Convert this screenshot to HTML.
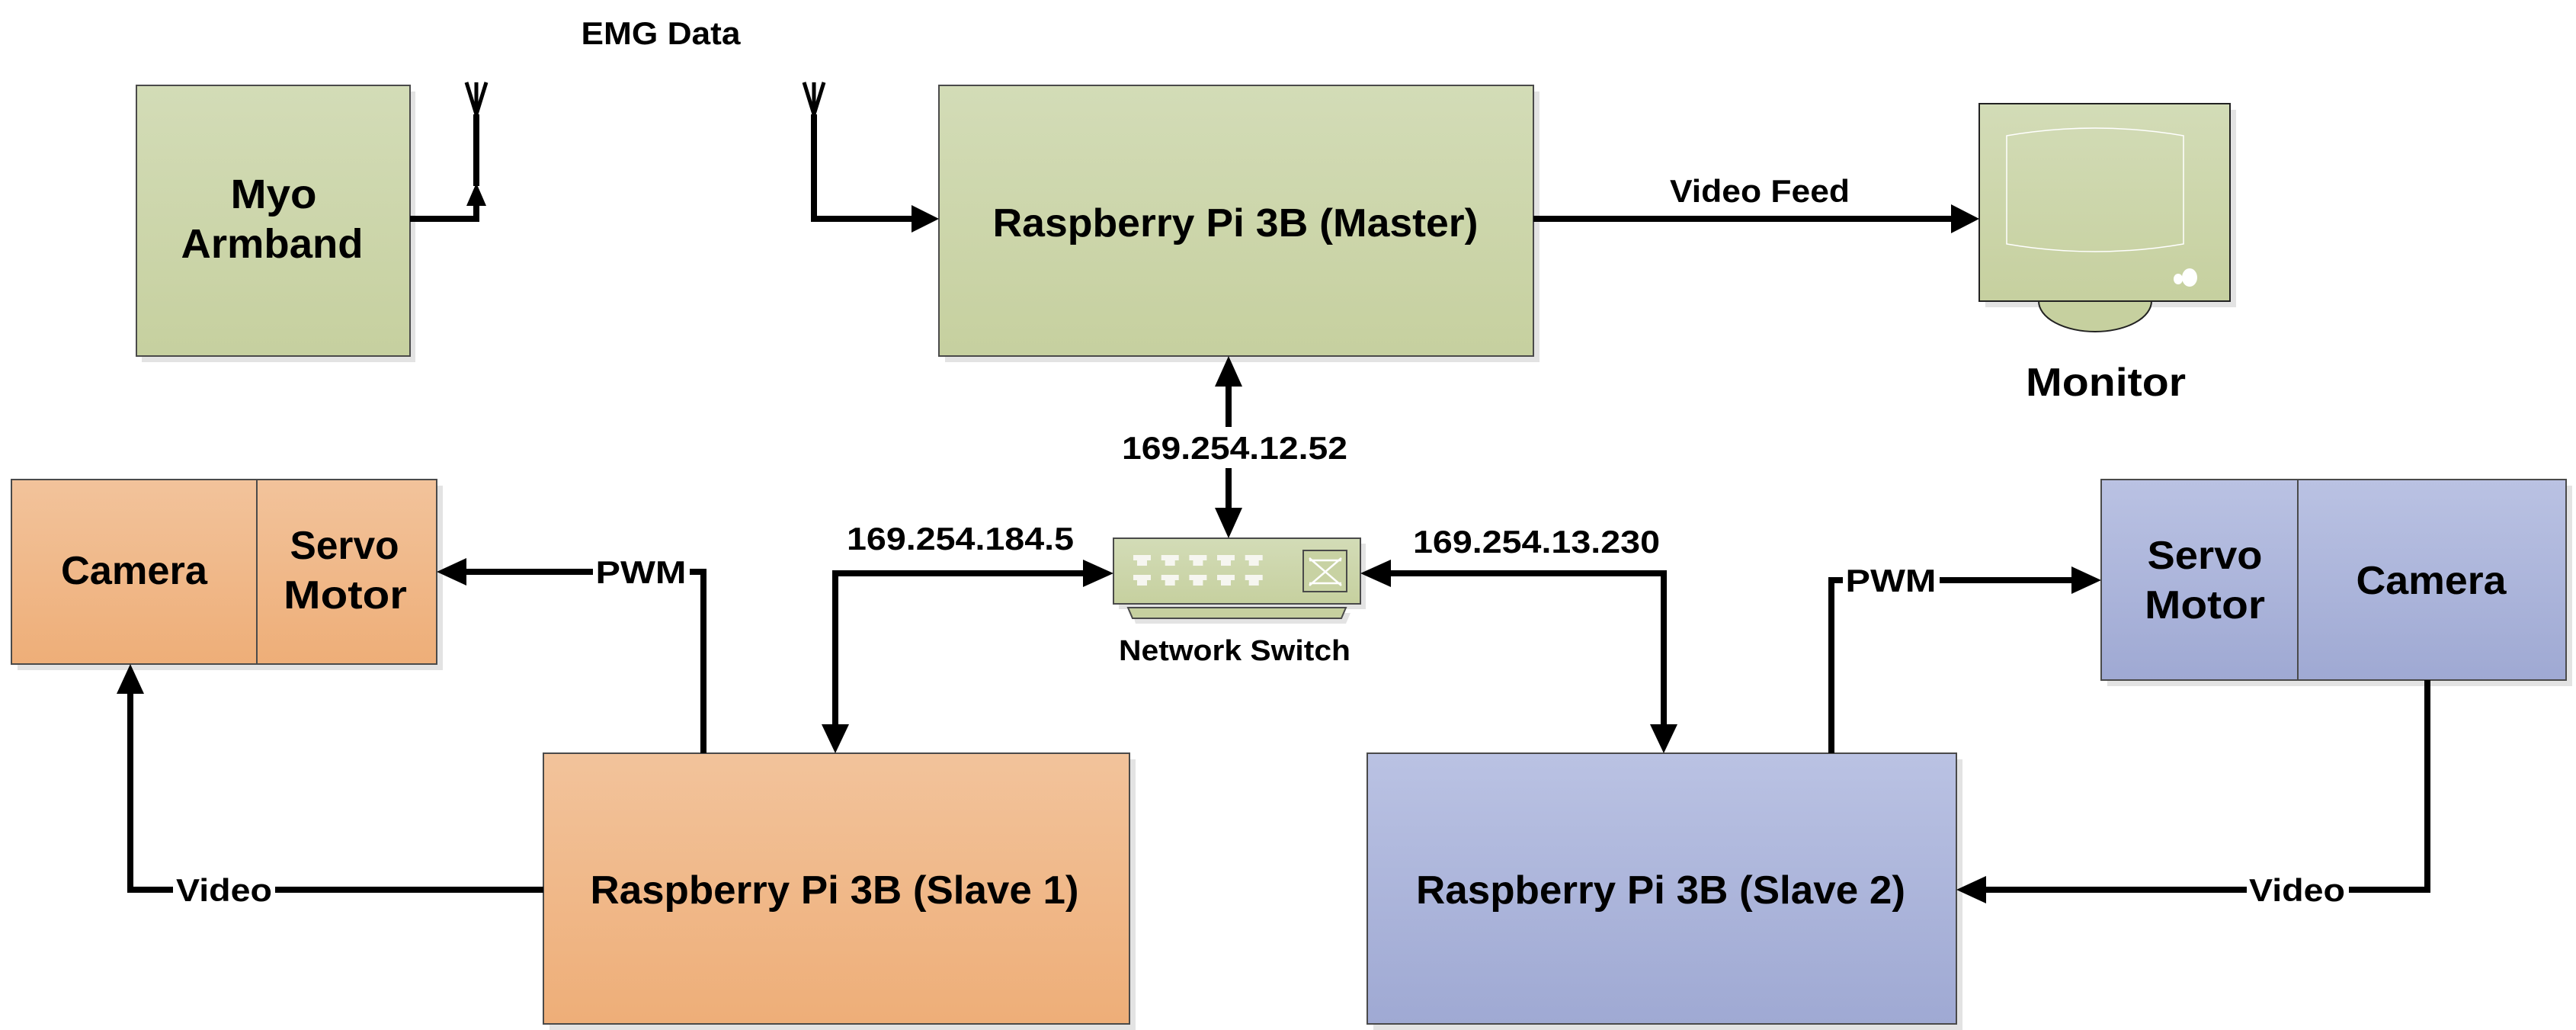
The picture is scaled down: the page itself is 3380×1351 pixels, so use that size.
<!DOCTYPE html>
<html><head><meta charset="utf-8"><style>
html,body{margin:0;padding:0;background:#fff;}
svg{display:block;}
text{font-family:"Liberation Sans",sans-serif;font-weight:bold;fill:#000;}
</style></head><body>
<svg width="3380" height="1351" viewBox="0 0 3380 1351" xmlns="http://www.w3.org/2000/svg">
<defs>
<linearGradient id="g" x1="0" y1="0" x2="0" y2="1"><stop offset="0" stop-color="#d3dcb7"/><stop offset="1" stop-color="#c6d09f"/></linearGradient>
<linearGradient id="o" x1="0" y1="0" x2="0" y2="1"><stop offset="0" stop-color="#f2c39b"/><stop offset="1" stop-color="#eeae78"/></linearGradient>
<linearGradient id="b" x1="0" y1="0" x2="0" y2="1"><stop offset="0" stop-color="#bac2e3"/><stop offset="1" stop-color="#9fa9d3"/></linearGradient>
</defs>
<g fill="#e3e3e3">
<rect x="186" y="120" width="359" height="355"/>
<rect x="1240" y="120" width="780" height="355"/>
<rect x="2605" y="144" width="329" height="259"/>
<rect x="23" y="637" width="558" height="242"/>
<rect x="2765" y="637" width="610" height="263"/>
<rect x="721" y="996" width="769" height="355"/>
<rect x="1802" y="996" width="773" height="355"/>
<rect x="1468" y="713" width="324" height="86"/>
<polygon points="1486,804 1772,804 1766,818 1490,818"/>
</g>
<g stroke="#4a4a4a" stroke-width="2">
<rect x="179" y="112" width="359" height="355" fill="url(#g)"/>
<rect x="1232" y="112" width="780" height="355" fill="url(#g)"/>
<rect x="15" y="629" width="558" height="242" fill="url(#o)"/>
<line x1="337" y1="629" x2="337" y2="871"/>
<rect x="2757" y="629" width="610" height="263" fill="url(#b)"/>
<line x1="3015" y1="629" x2="3015" y2="892"/>
<rect x="713" y="988" width="769" height="355" fill="url(#o)"/>
<rect x="1794" y="988" width="773" height="355" fill="url(#b)"/>
<ellipse cx="2749" cy="395" rx="74" ry="40" fill="#c6d09f" stroke="#222"/>
<rect x="2597" y="136" width="329" height="259" fill="url(#g)" stroke="#222"/>
<rect x="1461" y="706" width="324" height="86" fill="url(#g)"/>
<polygon points="1480,797 1766,797 1760,811 1486,811" fill="#c6d09f"/>
<rect x="1710" y="722" width="57" height="54" fill="#c8d2a3"/>
</g>
<path d="M2633,178 Q2749,158 2865,178 L2865,320 Q2749,340 2633,320 Z" fill="none" stroke="#fff" stroke-width="1.5"/>
<ellipse cx="2858" cy="366" rx="6" ry="7" fill="#fff"/><ellipse cx="2873" cy="364" rx="10" ry="12" fill="#fff"/>
<g fill="#f6f6f0">
<path id="p" d="M1487,728 h23 v7 h-5 v7 h-13 v-7 h-5 z"/>
<use href="#p" x="36.7"/><use href="#p" x="73.4"/><use href="#p" x="110"/><use href="#p" x="146.7"/>
<use href="#p" y="26"/><use href="#p" x="36.7" y="26"/><use href="#p" x="73.4" y="26"/><use href="#p" x="110" y="26"/><use href="#p" x="146.7" y="26"/>
</g>
<path d="M1718,732 L1760,768 M1760,732 L1718,768 M1718,735 L1740,735 M1760,735 L1738,735 M1718,765 L1740,765 M1760,765 L1738,765" stroke="#fff" stroke-width="2.5" fill="none"/>
<g stroke="#000" stroke-width="8" fill="none" stroke-linejoin="miter">
<polyline points="538,287 625,287 625,270"/>
<line x1="625" y1="244" x2="625" y2="150"/>
<path d="M612,108 L625,150 L638,108 M625,150 L625,108" stroke-width="5"/>
<path d="M1055,108 L1068,150 L1081,108 M1068,150 L1068,108" stroke-width="5"/>
<polyline points="1068,150 1068,287 1200,287"/>
<line x1="2012" y1="287" x2="2560" y2="287"/>
<line x1="1612" y1="505" x2="1612" y2="565"/>
<line x1="1612" y1="610" x2="1612" y2="668"/>
<polyline points="1424,752 1096,752 1096,952"/>
<polyline points="1822,752 2183,752 2183,952"/>
<polyline points="923,988 923,750 610,750"/>
<polyline points="713,1167 171,1167 171,908"/>
<polyline points="2403,988 2403,761 2720,761"/>
<polyline points="3185,892 3185,1167 2604,1167"/>
</g>
<g fill="#000">
<polygon points="625,240 612,270 638,270"/>
<polygon points="1232,287 1196,269 1196,305"/>
<polygon points="2597,287 2560,268 2560,306"/>
<polygon points="1612,467 1594,507 1630,507"/>
<polygon points="1612,706 1594,666 1630,666"/>
<polygon points="1461,752 1421,734 1421,770"/>
<polygon points="1096,988 1078,950 1114,950"/>
<polygon points="1785,752 1825,734 1825,770"/>
<polygon points="2183,988 2165,950 2201,950"/>
<polygon points="573,750 612,732 612,768"/>
<polygon points="171,871 153,910 189,910"/>
<polygon points="2757,761 2718,743 2718,779"/>
<polygon points="2567,1167 2606,1149 2606,1185"/>
</g>
<g fill="#fff">
<rect x="1462" y="560" width="316" height="54"/>
<rect x="778" y="725" width="127" height="50"/>
<rect x="2418" y="736" width="127" height="50"/>
<rect x="227" y="1142" width="134" height="50"/>
<rect x="2948" y="1142" width="134" height="50"/>
</g>
<g font-size="54" text-anchor="middle">
<text x="359" y="273" textLength="113" lengthAdjust="spacingAndGlyphs">Myo</text>
<text x="357" y="338" textLength="239" lengthAdjust="spacingAndGlyphs">Armband</text>
</g>
<g font-size="52" text-anchor="middle">
<text x="1621" y="310" textLength="637" lengthAdjust="spacingAndGlyphs">Raspberry Pi 3B (Master)</text>
<text x="176" y="766" textLength="192" lengthAdjust="spacingAndGlyphs">Camera</text>
<text x="452" y="733" textLength="143" lengthAdjust="spacingAndGlyphs">Servo</text>
<text x="453" y="798" textLength="162" lengthAdjust="spacingAndGlyphs">Motor</text>
<text x="2893" y="746" textLength="151" lengthAdjust="spacingAndGlyphs">Servo</text>
<text x="2893" y="811" textLength="158" lengthAdjust="spacingAndGlyphs">Motor</text>
<text x="3190" y="779" textLength="197" lengthAdjust="spacingAndGlyphs">Camera</text>
<text x="1095" y="1185" textLength="641" lengthAdjust="spacingAndGlyphs">Raspberry Pi 3B (Slave 1)</text>
<text x="2179" y="1185" textLength="642" lengthAdjust="spacingAndGlyphs">Raspberry Pi 3B (Slave 2)</text>
<text x="2763" y="519" textLength="210" lengthAdjust="spacingAndGlyphs">Monitor</text>
</g>
<g font-size="42" text-anchor="middle">
<text x="867" y="58" textLength="209" lengthAdjust="spacingAndGlyphs">EMG Data</text>
<text x="2309" y="265" textLength="236" lengthAdjust="spacingAndGlyphs">Video Feed</text>
<text x="1620" y="602" textLength="296" lengthAdjust="spacingAndGlyphs">169.254.12.52</text>
<text x="1260" y="721" textLength="298" lengthAdjust="spacingAndGlyphs">169.254.184.5</text>
<text x="2016" y="725" textLength="324" lengthAdjust="spacingAndGlyphs">169.254.13.230</text>
<text x="841" y="765" textLength="119" lengthAdjust="spacingAndGlyphs">PWM</text>
<text x="2481" y="776" textLength="119" lengthAdjust="spacingAndGlyphs">PWM</text>
<text x="294" y="1182" textLength="126" lengthAdjust="spacingAndGlyphs">Video</text>
<text x="3014" y="1182" textLength="126" lengthAdjust="spacingAndGlyphs">Video</text>
</g>
<text x="1620" y="866" font-size="38" text-anchor="middle" textLength="304" lengthAdjust="spacingAndGlyphs">Network Switch</text>
</svg>
</body></html>
